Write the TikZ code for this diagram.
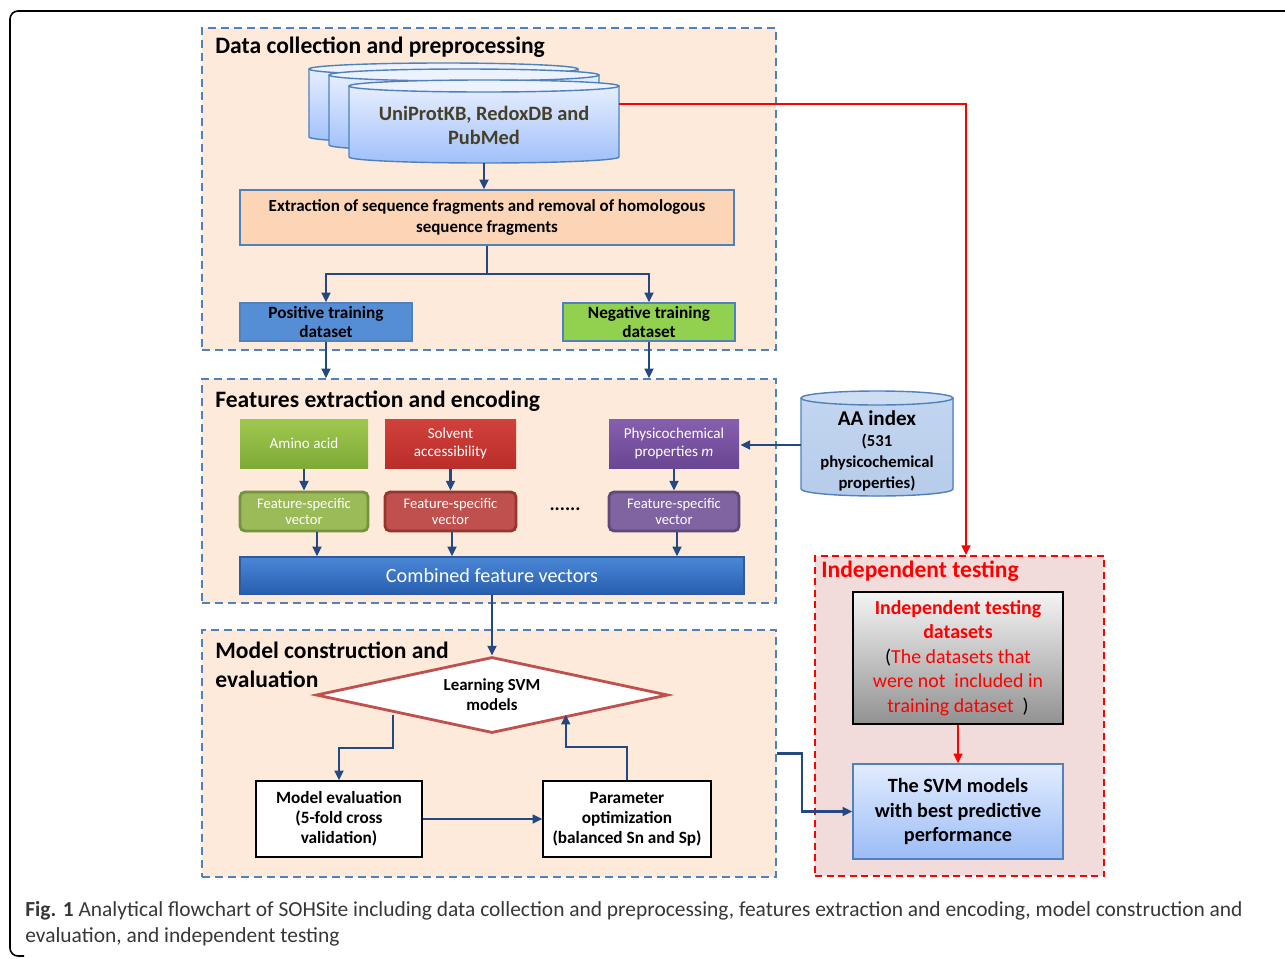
\documentclass[tikz,border=0pt]{standalone}
\usepackage{fontspec}
\setmainfont{Carlito}
\usetikzlibrary{arrows.meta,shapes.geometric}

\definecolor{linkblue}{RGB}{36,72,130}
\definecolor{dashblue}{RGB}{79,129,189}
\definecolor{peach}{RGB}{253,234,218}
\definecolor{pinkbg}{RGB}{242,220,219}
\definecolor{cyltop}{RGB}{236,242,255}
\definecolor{cylbot}{RGB}{160,192,250}
\definecolor{dbtext}{RGB}{70,64,40}
\definecolor{capgray}{RGB}{55,55,55}

\tikzset{
  section/.style={draw=dashblue,fill=peach,line width=0.8pt,dash pattern=on 1.6mm off 1mm,inner sep=0},
  sectitle/.style={anchor=west,inner sep=0,align=left,font=\fontsize{13.4}{16.5}\selectfont\bfseries},
  flat/.style={draw=dashblue,line width=0.8pt,inner sep=0,align=center},
  fbox/.style={rounded corners=1mm,line width=1.6pt,inner sep=0,align=center,text=white,
    minimum height=7.8mm,font=\fontsize{8.3}{9.2}\selectfont},
  wbox/.style={draw=black,fill=white,line width=0.8pt,inner sep=0,align=center,
    minimum width=33.2mm,minimum height=15.2mm,font=\fontsize{9.8}{11.4}\selectfont\bfseries},
  arr/.style={draw=linkblue,line width=1.3pt,-{Triangle[length=5.5pt,width=5pt]}},
  redarr/.style={draw=red,line width=1.3pt,-{Triangle[length=5.5pt,width=5pt]}},
}

% x1, x2, y of top ellipse, y of bottom ellipse, x radius, y radius
\newcommand{\dbdrum}[6]{%
  \path[top color=cyltop,bottom color=cylbot] (#1,#3) -- (#1,#4)
    arc[start angle=180,end angle=360,x radius=#5,y radius=#6] -- (#2,#3)
    arc[start angle=0,end angle=180,x radius=#5,y radius=#6] -- cycle;
  \draw[dashblue,line width=0.8pt] (#1,#3) -- (#1,#4)
    arc[start angle=180,end angle=360,x radius=#5,y radius=#6] -- (#2,#3);
  \draw[dashblue,line width=0.8pt,fill=cyltop] ({(#1+#2)/2},#3) ellipse[x radius=#5,y radius=#6];
}

\begin{document}
\begin{tikzpicture}[x=0.2mm,y=-0.2mm]
\useasboundingbox (0,0) rectangle (1285,958);
\draw[line width=0.9pt,rounded corners=1.6mm] (1290,11) -- (10,11) -- (10,956) -- (24,956);

% sections
\node[section,minimum width=114.8mm,minimum height=64.4mm] (sec1) at (489,189) {};
\node[section,minimum width=114.8mm,minimum height=44.8mm] (sec2) at (489,491) {};
\node[section,minimum width=114.8mm,minimum height=49.4mm] (sec3) at (489,753.5) {};
\node[draw=red,fill=pinkbg,line width=1pt,dash pattern=on 1.4mm off 0.9mm,inner sep=0,
  minimum width=57.8mm,minimum height=64mm] (sec4) at (959.5,716) {};

\node[sectitle] (t1) at (215,47) {Data collection and preprocessing};
\node[sectitle] (t2) at (215,401) {Features extraction and encoding};
\node[sectitle] (t3) at (215,665) {Model construction and\\evaluation};
\node[sectitle,text=red] (t4) at (821,571) {Independent testing};

% data collection
\dbdrum{309}{578}{69}{137}{26.9mm}{1.2mm}
\dbdrum{329}{599}{75}{145}{27mm}{1.2mm}
\dbdrum{349}{619}{86}{157}{27mm}{1.2mm}
\node[inner sep=0,minimum width=54mm,minimum height=16.6mm,align=center,text=dbtext,
  font=\fontsize{11.6}{13.7}\selectfont\bfseries] (db) at (484,125.5) {UniProtKB, RedoxDB and\\PubMed};
\node[flat,fill={rgb,255:red,251;green,213;blue,181},minimum width=98.8mm,minimum height=11mm,
  font=\fontsize{9.65}{12}\selectfont\bfseries] (extract) at (487,217.5)
  {Extraction of sequence fragments and removal of homologous\\sequence fragments};
\node[flat,fill={rgb,255:red,85;green,142;blue,213},minimum width=34.4mm,minimum height=7.6mm,
  font=\fontsize{9.8}{11.4}\selectfont\bfseries] (pos) at (326,322) {Positive training\\[-1pt]dataset};
\node[flat,fill={rgb,255:red,146;green,208;blue,80},minimum width=34.4mm,minimum height=7.6mm,
  font=\fontsize{9.8}{11.4}\selectfont\bfseries] (neg) at (649,322) {Negative training\\[-1pt]dataset};

\draw[arr] ([yshift=0.8mm]db.south) -- (db.south |- extract.north);
\draw[arr] (extract.south) -- ++(0,28) -| (pos.north);
\draw[arr] (extract.south) -- ++(0,28) -| (neg.north);
\draw[arr] (pos.south) -- (pos.south |- sec2.north);
\draw[arr] (neg.south) -- (neg.south |- sec2.north);

% features
\node[fbox,rounded corners=0,minimum width=25.6mm,minimum height=9.8mm,
  top color={rgb,255:red,160;green,200;blue,80},bottom color={rgb,255:red,125;green,170;blue,55},
  font=\fontsize{8.6}{9.8}\selectfont] (amino) at (304,443.5) {Amino acid};
\node[fbox,rounded corners=0,minimum width=26.2mm,minimum height=9.8mm,
  top color={rgb,255:red,210;green,65;blue,60},bottom color={rgb,255:red,185;green,45;blue,42},
  font=\fontsize{8.6}{9.8}\selectfont] (solvent) at (450.5,443.5) {Solvent\\accessibility};
\node[fbox,rounded corners=0,minimum width=26mm,minimum height=9.8mm,
  top color={rgb,255:red,135;green,95;blue,175},bottom color={rgb,255:red,105;green,70;blue,145},
  font=\fontsize{8.6}{9.8}\selectfont] (physico) at (674,443.5) {Physicochemical\\properties \textit{m}};

\node[fbox,draw={rgb,255:red,118;green,146;blue,60},fill={rgb,255:red,155;green,187;blue,89},
  minimum width=25.6mm] (fva) at (304,511.5) {Feature-specific\\vector};
\node[fbox,draw={rgb,255:red,150;green,52;blue,48},fill={rgb,255:red,192;green,80;blue,77},
  minimum width=26.2mm] (fvs) at (450.5,511.5) {Feature-specific\\vector};
\node[fbox,draw={rgb,255:red,95;green,73;blue,122},fill={rgb,255:red,128;green,100;blue,162},
  minimum width=26mm] (fvp) at (674,511.5) {Feature-specific\\vector};
\node[inner sep=0,font=\fontsize{11}{12}\selectfont\bfseries] (dots) at (565,509) {......};

\node[draw={rgb,255:red,45;green,90;blue,160},line width=0.8pt,inner sep=0,text=white,
  top color={rgb,255:red,75;green,135;blue,215},bottom color={rgb,255:red,40;green,95;blue,175},
  minimum width=100.8mm,minimum height=7.4mm,font=\fontsize{11.5}{13}\selectfont] (comb) at (492,575.5)
  {Combined feature vectors};

\fill[top color={rgb,255:red,196;green,214;blue,240},bottom color={rgb,255:red,182;green,204;blue,234}]
  (801,398) -- (801,489) arc[start angle=180,end angle=360,x radius=15.2mm,y radius=1.4mm]
  -- (953,398) arc[start angle=0,end angle=180,x radius=15.2mm,y radius=1.4mm] -- cycle;
\draw[dashblue,line width=0.8pt] (801,398) -- (801,489)
  arc[start angle=180,end angle=360,x radius=15.2mm,y radius=1.4mm] -- (953,398);
\draw[dashblue,line width=0.8pt,fill={rgb,255:red,205;green,221;blue,242}] (877,398) ellipse[x radius=15.2mm,y radius=1.4mm];
\node[inner sep=0,minimum width=30.4mm,minimum height=21mm,align=center,
  font=\fontsize{9.5}{11.8}\selectfont\bfseries] (aa) at (877,451)
  {{\fontsize{12}{13}\selectfont AA index}\\(531\\physicochemical\\properties)};

\draw[arr] (amino.south) -- (fva.north);
\draw[arr] (solvent.south) -- (fvs.north);
\draw[arr] (physico.south) -- (fvp.north);
\draw[arr] ([xshift=2.6mm]fva.south) -- ([xshift=2.6mm]fva.south |- comb.north);
\draw[arr] ([xshift=0.3mm]fvs.south) -- ([xshift=0.3mm]fvs.south |- comb.north);
\draw[arr] ([xshift=0.6mm]fvp.south) -- ([xshift=0.6mm]fvp.south |- comb.north);
\draw[arr] ([yshift=1.2mm]aa.west) -- ([yshift=1.2mm]aa.west -| physico.east);

% model construction
\node[diamond,aspect=4.6,draw={rgb,255:red,192;green,80;blue,77},line width=1.6pt,fill=white,inner sep=0,
  minimum width=70.4mm,minimum height=15.2mm,align=center,
  font=\fontsize{9.6}{11.4}\selectfont\bfseries] (svm) at (492,695) {Learning SVM\\models};
\node[wbox] (eval) at (339,819) {Model evaluation\\(5-fold cross\\validation)};
\node[wbox,minimum width=33.6mm] (param) at (627,819) {Parameter\\optimization\\(balanced Sn and Sp)};

\draw[arr] (comb.south) -- (svm.north);
\draw[arr] ([xshift=-2mm]svm.south west) -- ++(0,33) -| (eval.north);
\draw[arr] (eval.east) -- (param.west);
\draw[arr] (param.north) -- ++(0,-33) -| ([xshift=-3mm]svm.south east);

% independent testing
\node[draw=black,line width=0.8pt,inner sep=0,align=center,
  top color={rgb,255:red,244;green,244;blue,244},bottom color={rgb,255:red,145;green,145;blue,145},
  minimum width=42mm,minimum height=26.4mm,font=\fontsize{11.3}{13.9}\selectfont] (indep) at (958,658)
  {\textcolor{red}{\bfseries Independent testing}\\\textcolor{red}{\bfseries datasets}\\
   (\textcolor{red}{The datasets that}\\\textcolor{red}{were not\ \ included in}\\
   \textcolor{red}{training dataset}\ \ )};
\node[draw=dashblue,line width=0.8pt,inner sep=0,align=center,
  top color={rgb,255:red,226;green,236;blue,255},bottom color={rgb,255:red,155;green,188;blue,246},
  minimum width=42mm,minimum height=19mm,font=\fontsize{11.5}{13.9}\selectfont\bfseries] (best) at (958,811.5)
  {The SVM models\\with best predictive\\performance};

\draw[redarr] ([yshift=4.3mm]db.east) -| ([xshift=1.3mm]sec4.north);
\draw[redarr] (indep.south) -- (best.north);
\draw[arr] (sec3.east) -- ++(25,0) |- (best.west);

% caption
\node[anchor=west,inner sep=0,align=left,text=capgray,font=\fontsize{12.2}{14.8}\selectfont] (cap) at (25,924)
  {\textbf{Fig. 1} Analytical flowchart of SOHSite including data collection and preprocessing, features extraction and encoding, model construction and\\
   evaluation, and independent testing};
\end{tikzpicture}
\end{document}
